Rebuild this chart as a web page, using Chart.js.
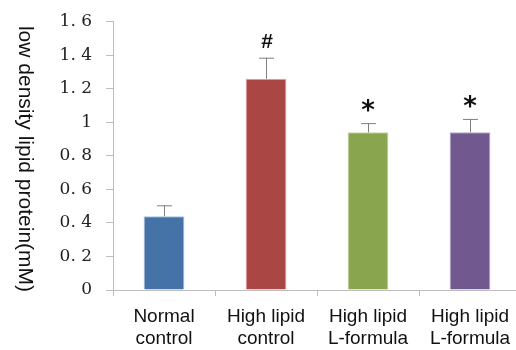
<!DOCTYPE html>
<html>
<head>
<meta charset="utf-8">
<script src="https://cdn.jsdelivr.net/npm/chart.js@4/dist/chart.umd.min.js"></script>
<style>
  html, body { margin: 0; padding: 0; background: #fff; overflow: hidden; }
  #wrap { width: 522px; height: 350px; }
</style>
</head>
<body>
<div id="wrap"><canvas id="ldlChart" width="522" height="350"></canvas></div>
<script>
// values
const categories = [['Normal', 'control'], ['High lipid', 'control'], ['High lipid', 'L-formula'], ['High lipid', 'L-formula']];
const ldlValues = [0.44, 1.26, 0.94, 0.94];
const ldlErrors = [0.065, 0.125, 0.055, 0.08];
const markers = ['', '#', '*', '*'];
const barColors = ['#4572A7', '#AA4643', '#89A54E', '#71588F'];
const barEdges = ['#a9c0de', '#dca9a7', '#c6d6a8', '#b8a9cc'];
const yTickLabels = ['0', '0. 2', '0. 4', '0. 6', '0. 8', '1', '1. 2', '1. 4', '1. 6'];
const yTitle = 'low density lipid protein(mM)';

document.addEventListener('DOMContentLoaded', () => {
    const ctx = document.getElementById('ldlChart').getContext('2d');

    // upper error bars + significance marks
    const errorBars = {
        id: 'errorBars',
        afterDatasetsDraw(chart) {
            const c = chart.ctx;
            const x = chart.scales.x;
            const y = chart.scales.y;
            c.save();
            ldlValues.forEach((v, i) => {
                const px = x.getPixelForValue(i);
                const top = y.getPixelForValue(v + ldlErrors[i]);
                const base = y.getPixelForValue(v);
                c.strokeStyle = '#7f7f7f';
                c.lineWidth = 1;
                c.beginPath();
                c.moveTo(px + 0.5, base);
                c.lineTo(px + 0.5, top);
                c.moveTo(px - 7, top + 0.5);
                c.lineTo(px + 8, top + 0.5);
                c.stroke();
                if (markers[i]) {
                    c.fillStyle = '#111';
                    c.textAlign = 'center';
                    c.textBaseline = 'middle';
                    if (markers[i] === '#') {
                        c.font = 'bold 21px "Liberation Sans"';
                        c.fillText(markers[i], px + 1, top - 16);
                    } else {
                        c.font = 'bold 26px "DejaVu Sans"';
                        c.fillText(markers[i], px, top - 11);
                    }
                }
            });
            c.restore();
        }
    };

    // y title reads top to bottom
    const sideTitle = {
        id: 'sideTitle',
        afterDraw(chart) {
            const c = chart.ctx;
            c.save();
            c.translate(25, 159);
            c.rotate(Math.PI / 2);
            c.font = '21px "Liberation Sans"';
            c.fillStyle = '#111';
            c.textAlign = 'center';
            c.textBaseline = 'middle';
            c.fillText(yTitle, 0, 0);
            c.restore();
        }
    };

    new Chart(ctx, {
        type: 'bar',
        data: {
            labels: categories,
            datasets: [{
                data: ldlValues,
                backgroundColor: barColors,
                borderColor: barEdges,
                borderWidth: 1,
                categoryPercentage: 1,
                barPercentage: 0.4
            }]
        },
        options: {
            responsive: false,
            animation: false,
            devicePixelRatio: 1,
            layout: { padding: { left: 40, right: 1, top: 0 } },
            plugins: {
                legend: { display: false },
                tooltip: { enabled: false }
            },
            scales: {
                x: {
                    afterFit: (s) => { s.height = 60; },
                    grid: { display: true, drawOnChartArea: false, offset: true, tickLength: 6, color: '#bdbdbd' },
                    border: { color: '#bdbdbd' },
                    ticks: {
                        color: '#111',
                        font: { family: 'Liberation Sans', size: 19, lineHeight: 1.15 },
                        padding: 10,
                        maxRotation: 0,
                        autoSkip: false
                    }
                },
                y: {
                    min: 0,
                    max: 1.6,
                    afterFit: (s) => { s.width = 73; },
                    grid: { display: true, drawOnChartArea: false, tickLength: 7, color: '#bdbdbd' },
                    border: { color: '#bdbdbd' },
                    ticks: {
                        stepSize: 0.2,
                        padding: 14,
                        color: '#222',
                        font: { family: 'DejaVu Serif', size: 17, lineHeight: 0.9 },
                        callback: (v, i) => yTickLabels[i]
                    }
                }
            }
        },
        plugins: [errorBars, sideTitle]
    });
});
</script>
</body>
</html>
